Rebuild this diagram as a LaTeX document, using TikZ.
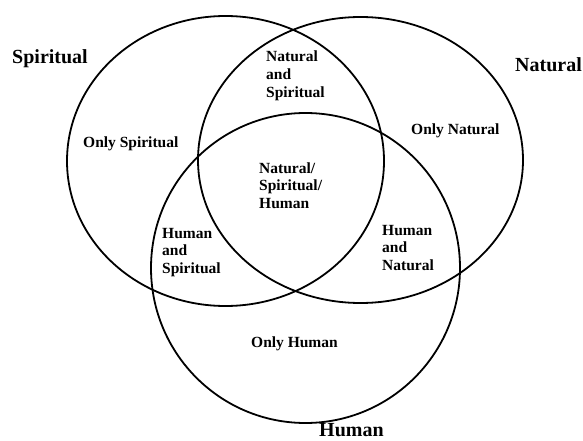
\documentclass[tikz,border=0pt]{standalone}
\usepackage{fontspec}
\setmainfont{Liberation Serif}
\begin{document}
\begin{tikzpicture}[x=1pt,y=-1pt,
  vennline/.style={draw=black, line width=1.8pt},
  biglbl/.style={font=\bfseries\fontsize{20}{23}\selectfont, inner sep=0pt, anchor=base west},
  rgn/.style={font=\bfseries\fontsize{15.5}{17.7}\selectfont, inner sep=0pt, anchor=base west, align=left}]
\useasboundingbox (0,0) rectangle (583,441);
% circles
\draw[vennline] (225.5,161) ellipse [x radius=158.5pt, y radius=145pt];
\draw[vennline] (360.5,160) ellipse [x radius=162.5pt, y radius=143pt];
\draw[vennline] (305.5,268) ellipse [x radius=154.5pt, y radius=155pt];
% set labels
\node[biglbl] (spl) at (12,64) {Spiritual};
\node[biglbl] (ntl) at (515,72) {Natural};
\node[biglbl] (hml) at (319,436) {Human};
% regions (anchor = baseline of last line)
\node[rgn] (os) at (83,147) {Only Spiritual};
\node[rgn] (on) at (411,135) {Only Natural};
\node[rgn] (oh) at (251,347) {Only Human};
\node[rgn] (ns) at (266,97.4) {Natural\\and\\Spiritual};
\node[rgn] (nsh) at (259,208.4) {Natural/\\Spiritual/\\Human};
\node[rgn] (hs) at (162,273.4) {Human\\and\\Spiritual};
\node[rgn] (hn) at (382,270.4) {Human\\and\\Natural};
\end{tikzpicture}
\end{document}
